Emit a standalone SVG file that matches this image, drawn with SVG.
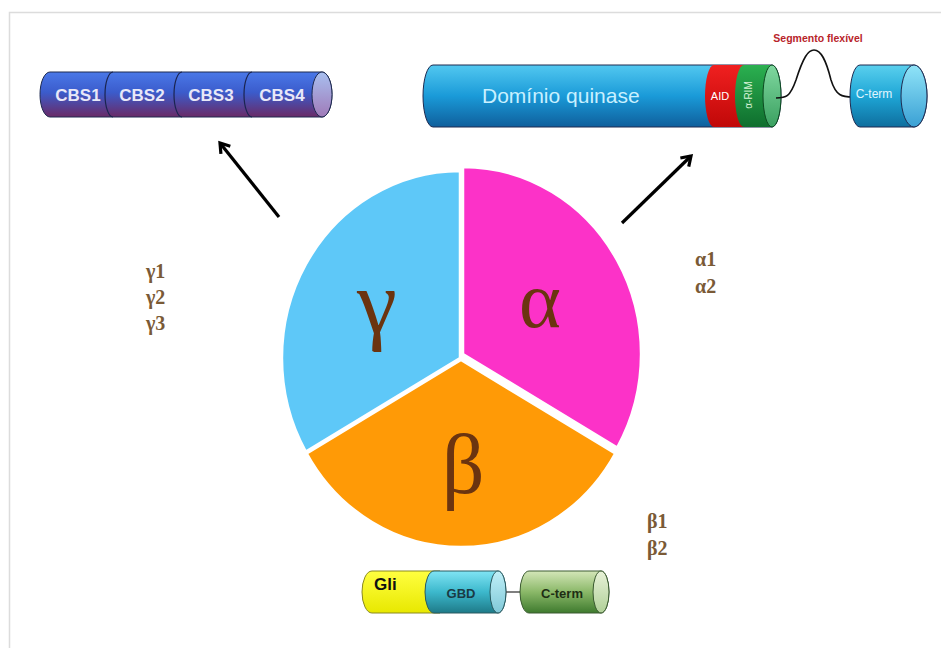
<svg xmlns="http://www.w3.org/2000/svg" width="941" height="648" viewBox="0 0 941 648">
<defs>
<style>
.lbl{font-family:"Liberation Serif",serif;font-weight:bold;font-size:20px;fill:#7a5a36}
.greek{font-family:"Liberation Serif",serif;fill:#6b3410;text-anchor:middle}
.outline{stroke:#1e2a50;stroke-width:1}
.conn{stroke:#000;stroke-width:3.2;fill:none;marker-end:url(#arr)}
.sans{font-family:"Liberation Sans",Arial,sans-serif}
</style>
<marker id="arr" markerUnits="userSpaceOnUse" viewBox="0 0 16 16" markerWidth="16" markerHeight="16" refX="12" refY="8" orient="auto">
<path d="M3,2 L12,8 L3,14" fill="none" stroke="#000" stroke-width="3.2" stroke-linejoin="miter"/>
</marker>
<linearGradient id="gCBS" x1="0" y1="0" x2="0" y2="1">
<stop offset="0" stop-color="#4a78e8"/><stop offset="0.45" stop-color="#3b5ccc"/><stop offset="1" stop-color="#6a2a66"/>
</linearGradient>
<linearGradient id="gCBScap" x1="0" y1="0" x2="0" y2="1">
<stop offset="0" stop-color="#a8c0f0"/><stop offset="1" stop-color="#a07ab8"/>
</linearGradient>
<linearGradient id="gBlue" x1="0" y1="0" x2="0" y2="1">
<stop offset="0" stop-color="#52c8f0"/><stop offset="0.5" stop-color="#1a9ad8"/><stop offset="1" stop-color="#0f5f9c"/>
</linearGradient>
<linearGradient id="gRed" x1="0" y1="0" x2="0" y2="1">
<stop offset="0" stop-color="#f02020"/><stop offset="1" stop-color="#c00808"/>
</linearGradient>
<linearGradient id="gGreen" x1="0" y1="0" x2="0" y2="1">
<stop offset="0" stop-color="#2bb050"/><stop offset="1" stop-color="#0f6e2e"/>
</linearGradient>
<linearGradient id="gGreenCap" x1="0" y1="0" x2="0" y2="1">
<stop offset="0" stop-color="#80d8a0"/><stop offset="1" stop-color="#3aa060"/>
</linearGradient>
<linearGradient id="gCyan" x1="0" y1="0" x2="0" y2="1">
<stop offset="0" stop-color="#5ad0ee"/><stop offset="0.5" stop-color="#1ea6d6"/><stop offset="1" stop-color="#0e6e9e"/>
</linearGradient>
<linearGradient id="gCyanCap" x1="0" y1="0" x2="0" y2="1">
<stop offset="0" stop-color="#90e4f8"/><stop offset="1" stop-color="#3aa0d4"/>
</linearGradient>
<linearGradient id="gYellow" x1="0" y1="0" x2="0" y2="1">
<stop offset="0" stop-color="#ffff40"/><stop offset="1" stop-color="#e8e800"/>
</linearGradient>
<linearGradient id="gGBD" x1="0" y1="0" x2="0" y2="1">
<stop offset="0" stop-color="#80e4f4"/><stop offset="0.5" stop-color="#3cb8cc"/><stop offset="1" stop-color="#1e7a88"/>
</linearGradient>
<linearGradient id="gGBDcap" x1="0" y1="0" x2="0" y2="1">
<stop offset="0" stop-color="#c0f0f8"/><stop offset="1" stop-color="#80c8d8"/>
</linearGradient>
<linearGradient id="gCterm" x1="0" y1="0" x2="0" y2="1">
<stop offset="0" stop-color="#d4e6b8"/><stop offset="0.5" stop-color="#8ab868"/><stop offset="1" stop-color="#3e7a2e"/>
</linearGradient>
<linearGradient id="gCtermCap" x1="0" y1="0" x2="0" y2="1">
<stop offset="0" stop-color="#e8f2d8"/><stop offset="1" stop-color="#b0d098"/>
</linearGradient>
</defs>
<rect width="941" height="648" fill="#fff"/>
<rect x="9.5" y="12.5" width="940" height="640" fill="none" stroke="#dcdcdc" stroke-width="1.5"/>

<g id="pie">
<g id="slice-gamma" transform="translate(-1,0)">
<path d="M461,358 L306.8,451.5 A178 187 0 0 1 461,171 Z" fill="#5ec8f8" stroke="#fff" stroke-width="2.5" stroke-linejoin="round"/>
<text class="greek" x="378" y="333" font-size="90">γ</text>
</g>
<g id="slice-alpha" transform="translate(2,-4)">
<path d="M461,358 L461,171 A178 187 0 0 1 615.2,451.5 Z" fill="#fc32c8" stroke="#fff" stroke-width="2.5" stroke-linejoin="round"/>
<text class="greek" x="538" y="331" font-size="80">α</text>
</g>
<g id="slice-beta" transform="translate(0,2)">
<path d="M461,358 L615.2,451.5 A178 187 0 0 1 306.8,451.5 Z" fill="#ff9a06" stroke="#fff" stroke-width="2.5" stroke-linejoin="round"/>
<text class="greek" x="463" y="491" font-size="84">β</text>
</g>
</g>

<g id="labels-gamma">
<text class="lbl" x="146" y="278">γ1</text>
<text class="lbl" x="146" y="304">γ2</text>
<text class="lbl" x="146" y="330">γ3</text>
</g>
<g id="labels-alpha">
<text class="lbl" x="695" y="266">α1</text>
<text class="lbl" x="695" y="293">α2</text>
</g>
<g id="labels-beta">
<text class="lbl" x="647" y="528">β1</text>
<text class="lbl" x="647" y="555">β2</text>
</g>

<g id="gamma-cbs">
<path class="outline" d="M50,72 L322,72 A10 22.5 0 0 1 322,117 L50,117 A10 22.5 0 0 1 50,72 Z" fill="url(#gCBS)"/>
<path d="M113,72 A8 22.5 0 0 0 113,117 M182,72 A8 22.5 0 0 0 182,117 M252,72 A8 22.5 0 0 0 252,117" fill="none" stroke="#1a2450" stroke-width="1.2"/>
<ellipse class="outline" cx="322" cy="94.5" rx="10" ry="22.5" fill="url(#gCBScap)"/>
<g class="sans" font-size="17" font-weight="bold" fill="#e8e8f8" text-anchor="middle">
<text x="78" y="101">CBS1</text>
<text x="142" y="101">CBS2</text>
<text x="211" y="101">CBS3</text>
<text x="282" y="101">CBS4</text>
</g>
</g>

<g id="alpha-domains">
<path class="outline" d="M433,65 L772,65 A9 31 0 0 1 772,127 L433,127 A10 31 0 0 1 433,65 Z" fill="url(#gBlue)"/>
<path d="M714,65 L772,65 L772,127 L714,127 A9 31 0 0 1 714,65 Z" fill="url(#gRed)"/>
<path d="M744,65 L772,65 L772,127 L744,127 A9 31 0 0 1 744,65 Z" fill="url(#gGreen)"/>
<ellipse cx="772" cy="96" rx="9" ry="31" fill="url(#gGreenCap)" stroke="#0c4a20" stroke-width="1"/>
<text class="sans" x="482" y="103" font-size="21" fill="#c8f0ff">Domínio quinase</text>
<text class="sans" x="720" y="100" font-size="11" fill="#fff" text-anchor="middle">AID</text>
<text class="sans" x="0" y="0" font-size="10" fill="#d8f4d8" text-anchor="middle" transform="translate(752,95) rotate(-90)">α-RIM</text>
</g>

<g id="alpha-linker">
<path d="M776,98 C786,98 790,97 796,80 C803,58 808,50 814,50 C821,50 826,60 831,80 C836,96 842,97 853,97" fill="none" stroke="#111" stroke-width="1.6"/>
<text class="sans" x="818" y="42" font-size="10.5" font-weight="bold" fill="#b8242a" text-anchor="middle">Segmento flexível</text>
</g>

<g id="alpha-cterm">
<path class="outline" d="M860,65 L914,65 A13 31 0 0 1 914,127 L860,127 A10 31 0 0 1 860,65 Z" fill="url(#gCyan)"/>
<ellipse class="outline" cx="914" cy="96" rx="13" ry="31" fill="url(#gCyanCap)"/>
<text class="sans" x="874" y="98" font-size="12" fill="#e0f6ff" text-anchor="middle">C-term</text>
</g>

<g id="beta-domains">
<path d="M372,571 L440,571 L440,613 L372,613 A10 21 0 0 1 372,571 Z" fill="url(#gYellow)" stroke="#8a8a20" stroke-width="1"/>
<path d="M434,571 L498,571 A8 21 0 0 1 498,613 L434,613 A9 21 0 0 1 434,571 Z" fill="url(#gGBD)" stroke="#2a5a60" stroke-width="1"/>
<ellipse cx="498" cy="592" rx="8" ry="21" fill="url(#gGBDcap)" stroke="#2a5a60" stroke-width="1"/>
<line x1="506" y1="592" x2="521" y2="592" stroke="#555" stroke-width="1.5"/>
<path d="M529,571 L601,571 A8 21 0 0 1 601,613 L529,613 A9 21 0 0 1 529,571 Z" fill="url(#gCterm)" stroke="#3a5a30" stroke-width="1"/>
<ellipse cx="601" cy="592" rx="8" ry="21" fill="url(#gCtermCap)" stroke="#3a5a30" stroke-width="1"/>
<text class="sans" x="374" y="590" font-size="17" font-weight="bold" fill="#111">Gli</text>
<text class="sans" x="461" y="598" font-size="13" font-weight="bold" fill="#1a3a44" text-anchor="middle">GBD</text>
<text class="sans" x="562" y="598" font-size="13" font-weight="bold" fill="#1e2e14" text-anchor="middle">C-term</text>
</g>

<g id="connectors">
<line class="conn" x1="279" y1="217" x2="220" y2="143"/>
<line class="conn" x1="622" y1="223" x2="691" y2="156"/>
</g>
</svg>
